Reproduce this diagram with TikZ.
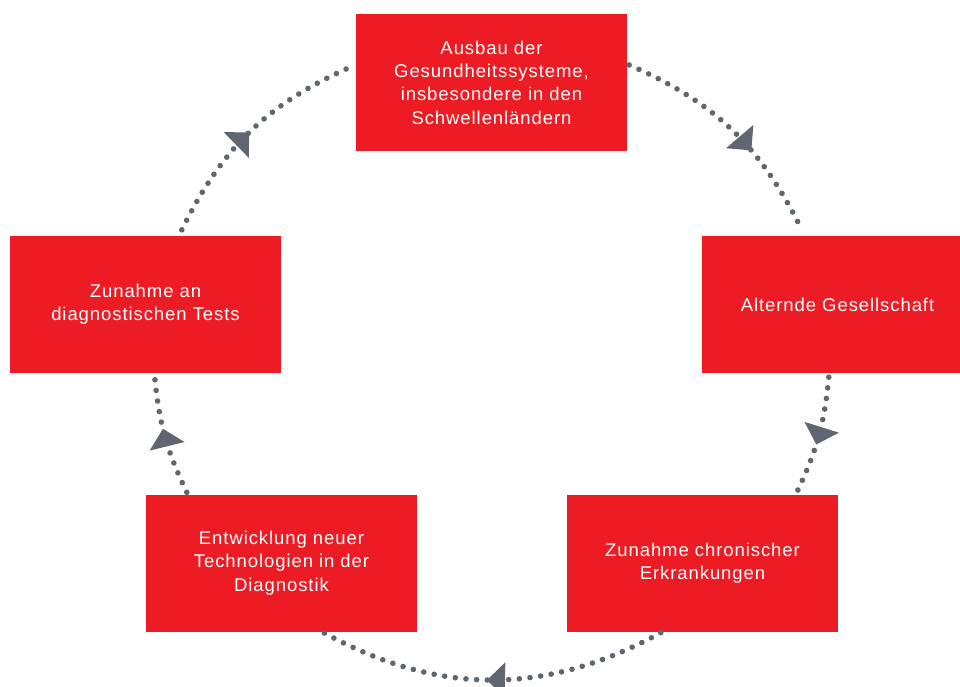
\documentclass[tikz,border=0pt]{standalone}
\usepackage{fontspec}
\setmainfont{Liberation Sans}[LetterSpace=5]
\usetikzlibrary{calc,arrows.meta,decorations.markings}
\definecolor{boxred}{HTML}{ED1C24}
\definecolor{dotgray}{HTML}{5F6670}
\tikzset{
  factor/.style={fill=boxred, text=white, minimum width=271pt, minimum height=137pt,
    inner sep=0pt, align=center, font=\fontsize{18.5pt}{23.3pt}\selectfont},
  cycle/.style={draw=dotgray, line width=5.6pt, line cap=round, dash pattern=on 0pt off 10.7pt},
  tipat/.style={postaction={decorate, decoration={markings,
    mark=at position #1 with {\fill[dotgray] (0,0) -- (-18pt,18pt) -- (-18pt,-18pt) -- cycle;}}}}
}
\begin{document}
\begin{tikzpicture}[x=1pt,y=-1pt]
\useasboundingbox (0,0) rectangle (960,686);
\clip (0,0) rectangle (960,686);
\node[factor] (top) at (491.5,82.5) {Ausbau der\\Gesundheitssysteme,\\insbesondere in den\\Schwellenländern};
\node[factor] (right) at (837.5,304.5) {Alternde Gesellschaft};
\node[factor] (bright) at (702.5,563) {Zunahme chronischer\\Erkrankungen};
\node[factor] (bleft) at (281.5,563) {Entwicklung neuer\\Technologien in der\\Diagnostik};
\node[factor] (left) at (145.5,304.5) {Zunahme an\\diagnostischen Tests};
\coordinate (a1) at ($(top.east)+(2,-17.5)$);
\coordinate (a2) at ($(right.north west)+(99,-8)$);
\coordinate (b1) at ($(right.south west)+(127,4)$);
\coordinate (b2) at ($(bright.north west)+(230,-2)$);
\coordinate (c1) at ($(bright.south west)+(94,1)$);
\coordinate (c2) at ($(bleft.south west)+(178,1)$);
\coordinate (d1) at ($(bleft.north west)+(41,-2)$);
\coordinate (d2) at ($(left.south west)+(145,5)$);
\coordinate (e1) at ($(left.north west)+(172,-6)$);
\coordinate (e2) at ($(top.west)+(-3,-16.5)$);
\draw[cycle, tipat=0.62] (a1) to[bend left=20] (a2);
\draw[cycle, tipat=0.57] (b1) to[bend left=10] (b2);
\draw[cycle, tipat=0.515] (c1) to[bend left=28.7] (c2);
\draw[cycle, tipat=0.57] (d1) to[bend left=10] (d2);
\draw[cycle, tipat=0.49] (e1) to[bend left=20] (e2);
\end{tikzpicture}
\end{document}
